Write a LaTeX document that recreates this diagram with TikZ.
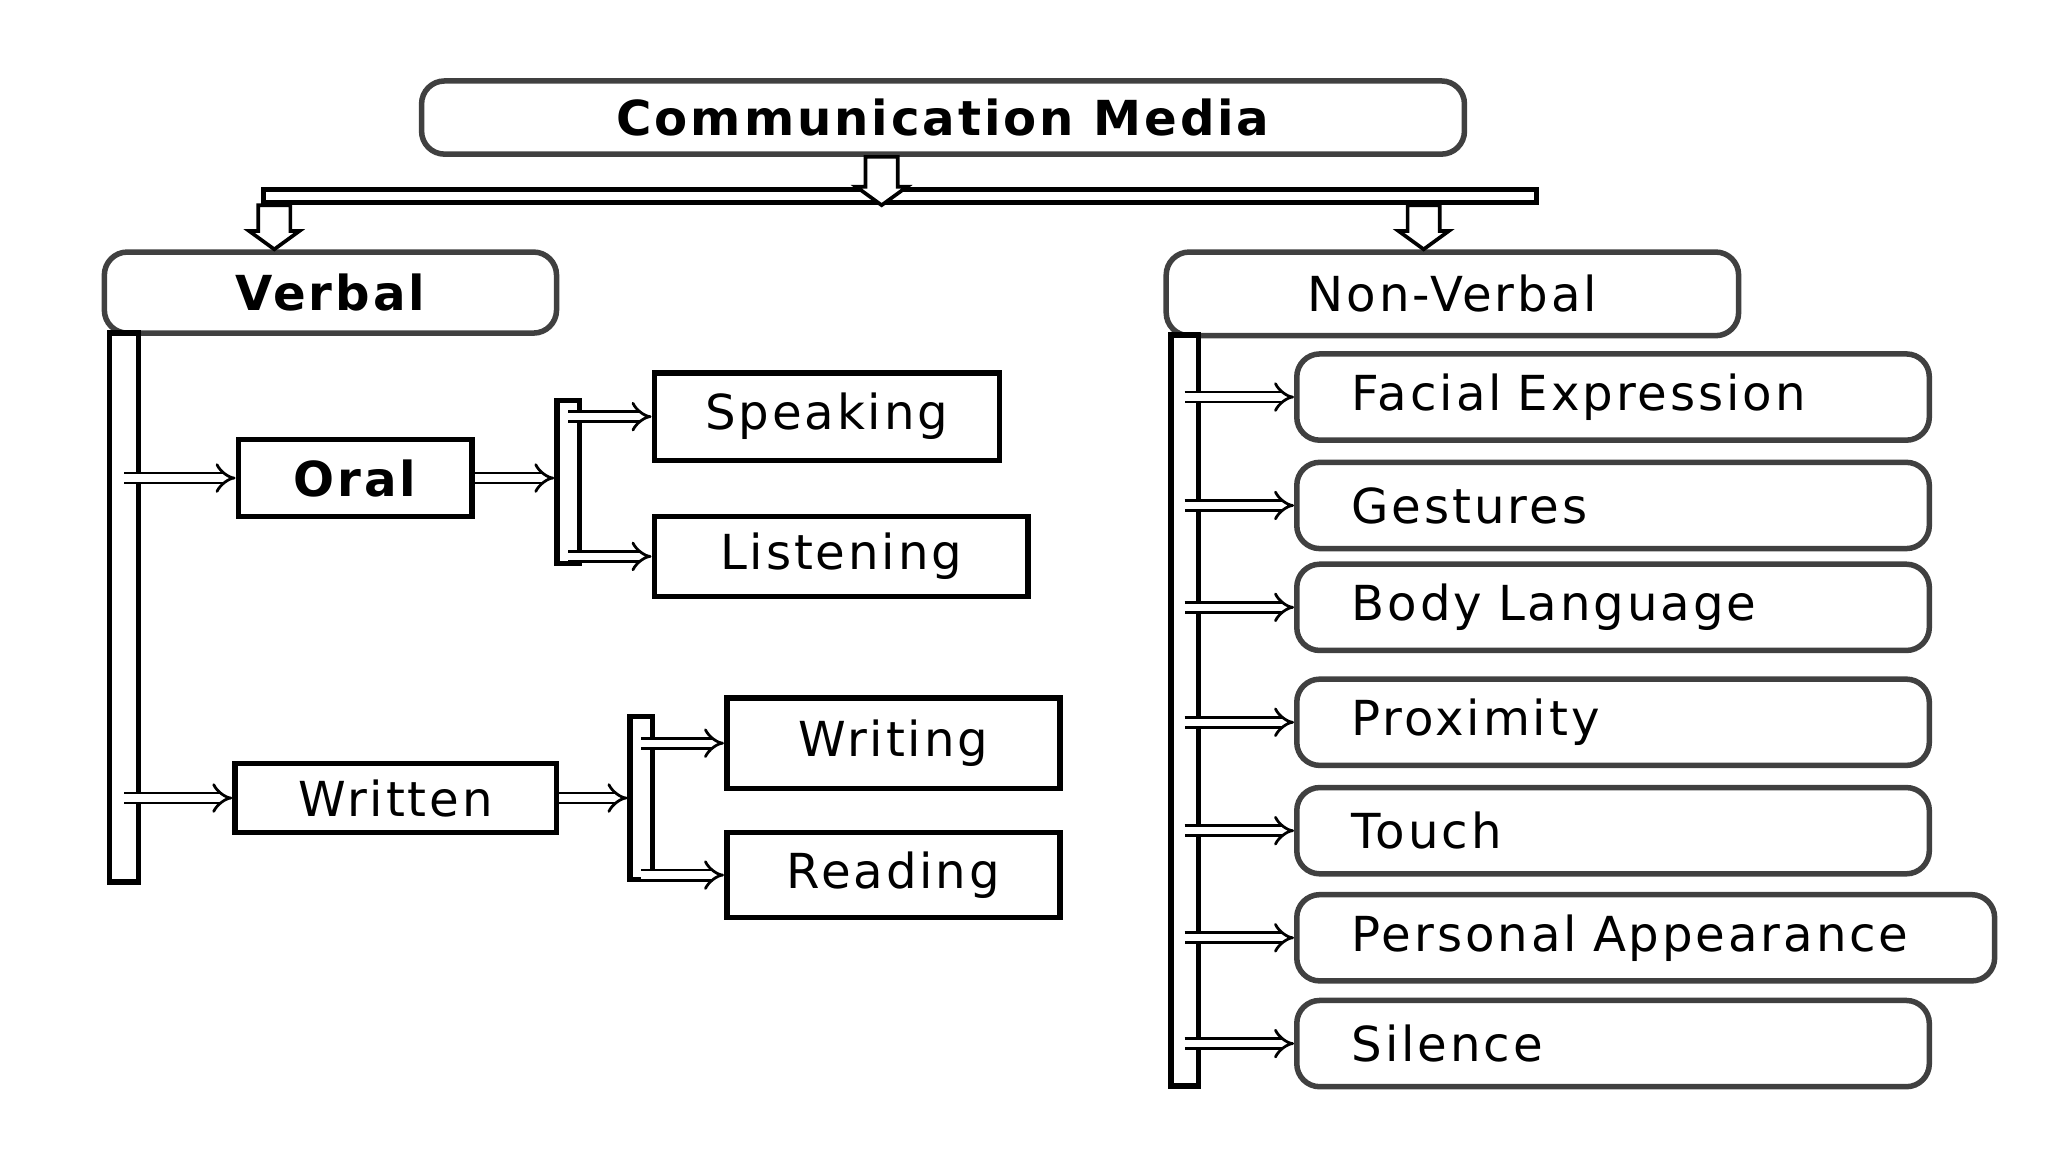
\documentclass[tikz,border=0pt]{standalone}
\usepackage{fontspec}
\newfontfamily\boxfont[LetterSpace=6]{DejaVu Sans}
\usetikzlibrary{arrows.meta,calc}

% hollow block arrow pointing down
\newcommand\blockdown[2]{%
  \draw[fill=white,line width=0.8pt] let \p1=#1, \p2=#2 in
    (\x1-3.5pt,\y1) -- (\x1-3.5pt,\y2+4pt) -- (\x1-5.5pt,\y2+4pt) -- (\x1,\y2)
    -- (\x1+5.5pt,\y2+4pt) -- (\x1+3.5pt,\y2+4pt) -- (\x1+3.5pt,\y1) -- cycle;}

\begin{document}
\begin{tikzpicture}[x=0.01cm,y=-0.01cm,thick,
  box/.style={draw,line width=1.2pt,inner sep=0pt,font=\boxfont\fontsize{10.5}{12}\selectfont},
  rbox/.style={box,rounded corners=5pt,draw=black!75},
  bar/.style={draw,fill=white,line width=1.2pt,inner sep=0pt},
  dar/.style={double,double distance=1.6pt,line width=0.6pt,-{Implies}}]
\useasboundingbox (0,0) rectangle (1568,882);

% top level
\node[rbox,minimum width=7.98cm,minimum height=0.56cm,font=\boxfont\fontsize{10.5}{12}\selectfont\bfseries] (media) at (722,90) {Communication Media};
\node[bar,minimum width=9.74cm,minimum height=0.1cm] (hbar) at (689,150) {};
\blockdown{(media.south -| 675,0)}{(hbar.south -| 675,0)}

\node[rbox,minimum width=3.46cm,minimum height=0.62cm,font=\boxfont\fontsize{10.5}{12}\selectfont\bfseries] (verbal) at (253,224) {Verbal};
\node[rbox,minimum width=4.38cm,minimum height=0.64cm] (nonverbal) at (1112,225) {Non-Verbal};
\blockdown{(hbar.south -| 210,0)}{(verbal.north -| 210,0)}
\blockdown{(hbar.south -| 1090,0)}{(nonverbal.north -| 1090,0)}

% verbal side
\node[bar,minimum width=0.22cm,minimum height=4.2cm] (barL) at (95,465) {};
\node[box,minimum width=1.79cm,minimum height=0.59cm,font=\boxfont\fontsize{10.5}{12}\selectfont\bfseries] (oral) at (272,366) {Oral};
\node[box,minimum width=2.46cm,minimum height=0.53cm] (written) at (303,611) {Written};
\draw[dar] (barL.center |- oral.west) -- (oral.west);
\draw[dar] (barL.center |- written.west) -- (written.west);

\node[bar,minimum width=0.17cm,minimum height=1.25cm] (barO) at (435,369) {};
\node[box,minimum width=2.64cm,minimum height=0.67cm] (speaking) at (633,319) {Speaking};
\node[box,minimum width=2.86cm,minimum height=0.61cm] (listening) at (644,426) {Listening};
\draw[dar] (oral.east) -- (barO.west |- oral.east);
\draw[dar] (barO.center |- speaking.west) -- (speaking.west);
\draw[dar] (barO.center |- listening.west) -- (listening.west);

\node[bar,minimum width=0.17cm,minimum height=1.25cm] (barW) at (491,611) {};
\node[box,minimum width=2.55cm,minimum height=0.69cm] (writing) at (684,569) {Writing};
\node[box,minimum width=2.55cm,minimum height=0.65cm] (reading) at (684,670) {Reading};
\draw[dar] (written.east) -- (barW.west |- written.east);
\draw[dar] (barW.center |- writing.west) -- (writing.west);
\draw[dar] (barW.center |- reading.west) -- (reading.west);

% non-verbal side
\node[bar,minimum width=0.21cm,minimum height=5.75cm] (barR) at (907,544) {};
\foreach \name/\y/\txt in {facial/304/Facial Expression,gestures/387/Gestures,body/465/Body Language,
  proximity/553/Proximity,touch/636/Touch,silence/799/Silence}{
  \node[rbox,minimum width=4.84cm,minimum height=0.66cm,text width=4.0cm,align=left,inner xsep=0.42cm] (\name) at (1235,\y) {\txt};
  \draw[dar] (barR.center |- \name.west) -- (\name.west);
}
\node[rbox,minimum width=5.34cm,minimum height=0.66cm,text width=4.5cm,align=left,inner xsep=0.42cm] (personal) at (1260,718) {Personal Appearance};
\draw[dar] (barR.center |- personal.west) -- (personal.west);
\end{tikzpicture}
\end{document}
